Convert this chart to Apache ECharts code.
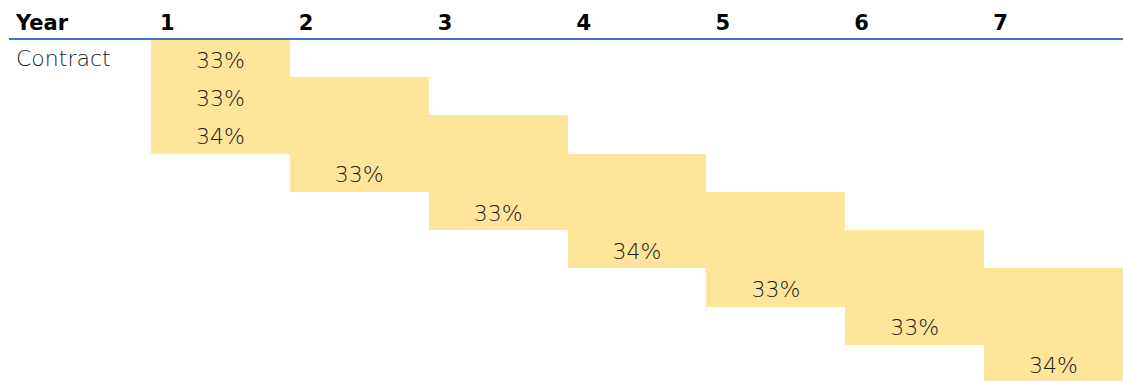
<!DOCTYPE html>
<html>
<head>
<meta charset="utf-8">
<script src="https://cdn.jsdelivr.net/npm/echarts@6/dist/echarts.min.js"></script>
<style>
  html, body { margin: 0; padding: 0; background: #fff; }
  #chart { width: 1123px; height: 381px; }
</style>
</head>
<body>
<div id="chart"></div>
<script>
// Years shown as column headers
const years = [1, 2, 3, 4, 5, 6, 7];
// Row labels (first column)
const rowLabels = ['Contract', '', '', '', '', '', '', '', ''];
// First and last year covered by each row
const startYear = [1, 1, 1, 2, 3, 4, 5, 6, 7];
const endYear   = [1, 2, 3, 4, 5, 6, 7, 7, 7];
// Share shown in each row (%)
const shares = [33, 33, 34, 33, 33, 34, 33, 33, 34];

const FILL = '#FFE599';
const BODY_FONT = 'DejaVu Sans';
const BODY_WEIGHT = 200;
const BODY_COLOR = '#1c1c1c';
const data = rowLabels.map((_, i) => [startYear[i], endYear[i], i, shares[i]]);

const chart = echarts.init(document.getElementById('chart'), null, { renderer: 'svg' });

chart.setOption({
  animation: false,
  backgroundColor: '#ffffff',
  grid: {
    left: 151, width: 972, top: 39, height: 344,
    containLabel: false, outerBoundsMode: 'none'
  },
  xAxis: {
    type: 'value',
    position: 'top',
    min: 0,
    max: years.length,
    interval: 1,
    axisLine: { show: false },
    axisTick: { show: false },
    splitLine: { show: false },
    axisLabel: {
      show: true,
      align: 'left',
      margin: 6,
      padding: [0, 0, 0, 9],
      fontFamily: 'DejaVu Sans',
      fontWeight: 'bold',
      fontSize: 21,
      color: '#000',
      formatter: v => (v < years.length ? String(years[v]) : '')
    }
  },
  yAxis: {
    type: 'category',
    inverse: true,
    data: rowLabels,
    axisLine: { show: false },
    axisTick: { show: false },
    splitLine: { show: false },
    axisLabel: {
      align: 'left',
      margin: 135,
      padding: [9, 0, 0, 0],
      fontFamily: BODY_FONT,
      fontWeight: BODY_WEIGHT,
      fontSize: 22,
      color: BODY_COLOR
    }
  },
  graphic: [
    {
      type: 'text',
      left: 16,
      top: 12,
      style: {
        text: 'Year',
        fontFamily: 'DejaVu Sans',
        fontWeight: 'bold',
        fontSize: 21,
        fill: '#000'
      }
    },
    {
      type: 'line',
      z: 100,
      shape: { x1: 9, y1: 39, x2: 1123, y2: 39 },
      style: { stroke: '#4472C4', lineWidth: 2 }
    }
  ],
  series: [{
    type: 'custom',
    data: data,
    encode: { x: [0, 1], y: 2 },
    renderItem: (params, api) => {
      const s = api.value(0), e = api.value(1), row = api.value(2);
      const p0 = api.coord([s - 1, row]);
      const p1 = api.coord([e, row]);
      const h = api.size([0, 1])[1];
      // snap edges to whole pixels so stacked rows meet without seams
      const x0 = Math.round(p0[0]), x1 = Math.round(p1[0]);
      const y0 = Math.round(p0[1] - h / 2), y1 = Math.round(p0[1] + h / 2);
      const labelPos = api.coord([s - 0.5, row]);
      return {
        type: 'group',
        children: [
          {
            type: 'rect',
            shape: { x: x0, y: y0, width: x1 - x0, height: y1 - y0 },
            style: { fill: FILL }
          },
          {
            type: 'text',
            style: {
              text: api.value(3) + '%',
              x: labelPos[0],
              y: labelPos[1] + 2,
              align: 'center',
              verticalAlign: 'middle',
              fontFamily: BODY_FONT,
              fontWeight: BODY_WEIGHT,
              fontSize: 22,
              fill: BODY_COLOR
            }
          }
        ]
      };
    }
  }]
});
</script>
</body>
</html>
